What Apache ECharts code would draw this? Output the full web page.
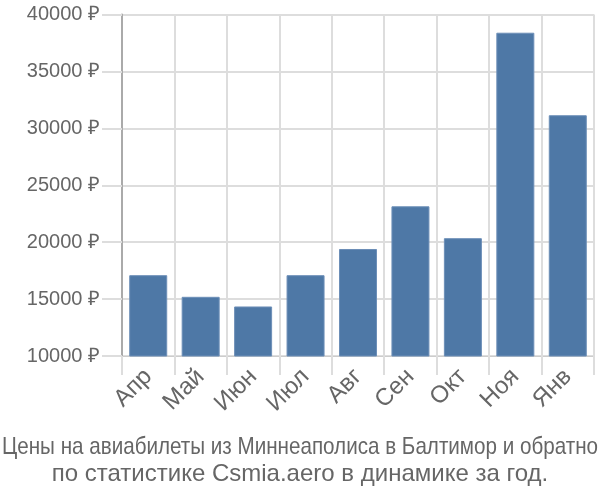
<!DOCTYPE html>
<html><head><meta charset="utf-8">
<script src="https://cdn.jsdelivr.net/npm/echarts@6/dist/echarts.min.js"></script>
<style>html,body{margin:0;padding:0;background:#fff}#c{width:600px;height:500px}</style>
</head><body><div id="c"></div>
<script>
const categories = ['Апр','Май','Июн','Июл','Авг','Сен','Окт','Ноя','Янв'];
const prices = [17100, 15200, 14350, 17100, 19400, 23150, 20350, 38400, 31150];
const yTicks = [10000, 15000, 20000, 25000, 30000, 35000, 40000];
const titleLine1 = 'Цены на авиабилеты из Миннеаполиса в Балтимор и обратно';
const titleLine2 = 'по статистике Csmia.aero в динамике за год.';

const titleFont = '24px "Liberation Sans"';
const ctx = document.createElement('canvas').getContext('2d');
ctx.font = titleFont;
const w1 = ctx.measureText(titleLine1).width;
const scale1 = Math.min(1, 596 / w1);

const chart = echarts.init(document.getElementById('c'), null, {renderer:'canvas'});
chart.setOption({
  animation:false,
  graphic:[
    {type:'text', x:300, y:447, scaleX:scale1, style:{text:titleLine1, x:0, y:0, align:'center', verticalAlign:'middle', font:titleFont, fill:'#666'}},
    {type:'text', x:300, y:474, style:{text:titleLine2, x:0, y:0, align:'center', verticalAlign:'middle', font:titleFont, fill:'#666'}}
  ],
  grid:{left:122, right:6, top:14.5, bottom:144},
  xAxis:{
    type:'category', data:categories,
    axisLine:{show:true, lineStyle:{color:'#ccc', width:1}},
    axisTick:{show:true, length:19, lineStyle:{color:'#ddd', width:2}},
    splitLine:{show:true, lineStyle:{color:'#ddd', width:2}},
    axisLabel:{rotate:45, margin:17, fontFamily:'Liberation Sans', fontSize:24, color:'#666'}
  },
  yAxis:{
    type:'value', min:yTicks[0], max:yTicks[yTicks.length-1], interval:5000,
    axisLine:{show:true, lineStyle:{color:'#aaa', width:2}},
    axisTick:{show:true, length:20, lineStyle:{color:'#ddd', width:2}},
    splitLine:{show:true, lineStyle:{color:'#ddd', width:2}},
    axisLabel:{margin:22, fontFamily:'Liberation Sans', fontSize:20, color:'#666', formatter: v => v + ' ₽'}
  },
  series:[{
    type:'bar', data:prices, barWidth:38,
    itemStyle:{color:'#4e78a6', borderColor:'#6d8fb8', borderWidth:1}
  }]
});
</script></body></html>
